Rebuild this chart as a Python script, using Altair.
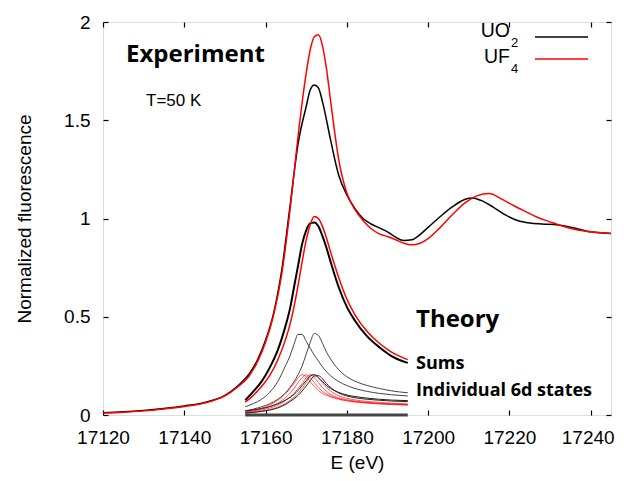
import altair as alt
import pandas as pd

# ---------------- data ----------------
X_TICKS = [17120, 17140, 17160, 17180, 17200, 17220, 17240]
Y_TICKS = [0, 0.5, 1, 1.5, 2]

UO2_E = [17120, 17125, 17130, 17135, 17140, 17145, 17150, 17153, 17156, 17158, 17160, 17162,
         17164, 17166, 17168, 17170, 17171, 17172, 17173, 17174, 17176, 17178, 17180, 17182,
         17184, 17186, 17188, 17190, 17192, 17194, 17196, 17198, 17200, 17203, 17206, 17209,
         17211, 17213, 17216, 17219, 17222, 17225, 17228, 17232, 17236, 17240, 17245]
UO2_V = [0.012, 0.016, 0.023, 0.033, 0.046, 0.064, 0.10, 0.145, 0.21, 0.28, 0.38, 0.52,
         0.74, 1.06, 1.38, 1.57, 1.655, 1.68, 1.665, 1.595, 1.40, 1.22, 1.12, 1.05,
         1.0, 0.972, 0.952, 0.932, 0.905, 0.888, 0.892, 0.918, 0.955, 1.01, 1.06, 1.097,
         1.104, 1.092, 1.058, 1.018, 0.99, 0.977, 0.972, 0.967, 0.952, 0.932, 0.924]

UF4_E = [17120, 17125, 17130, 17135, 17140, 17145, 17150, 17153, 17156, 17158, 17160, 17162,
         17164, 17166, 17168, 17170, 17171, 17172, 17173, 17174, 17175, 17176, 17178, 17180,
         17182, 17184, 17186, 17188, 17190, 17192, 17194, 17196, 17198, 17200, 17203, 17206,
         17209, 17212, 17215, 17218, 17221, 17224, 17227, 17230, 17233, 17236, 17240, 17245]
UF4_V = [0.010, 0.014, 0.021, 0.031, 0.043, 0.061, 0.097, 0.14, 0.20, 0.27, 0.37, 0.51,
         0.72, 1.04, 1.42, 1.74, 1.86, 1.925, 1.935, 1.88, 1.76, 1.60, 1.30, 1.13,
         1.045, 0.99, 0.948, 0.922, 0.908, 0.892, 0.874, 0.866, 0.874, 0.898, 0.955, 1.02,
         1.078, 1.115, 1.127, 1.10, 1.066, 1.035, 1.005, 0.983, 0.962, 0.945, 0.932, 0.924]

TH_E = [17155, 17157, 17159, 17161, 17163, 17165, 17166, 17167, 17168, 17169, 17170, 17171,
        17172, 17173, 17174, 17175, 17176, 17178, 17180, 17182, 17185, 17188, 17191, 17195]
SUM_UO2 = [0.075, 0.12, 0.17, 0.24, 0.33, 0.46, 0.54, 0.65, 0.76, 0.87, 0.94, 0.975,
           0.98, 0.96, 0.91, 0.85, 0.78, 0.65, 0.55, 0.48, 0.40, 0.345, 0.30, 0.265]
SUM_UF4 = [0.065, 0.10, 0.145, 0.20, 0.28, 0.39, 0.46, 0.55, 0.66, 0.78, 0.89, 0.97,
           1.01, 1.0, 0.96, 0.90, 0.83, 0.70, 0.59, 0.51, 0.425, 0.365, 0.32, 0.282]
IND_UO2_A = [0.042, 0.058, 0.08, 0.115, 0.17, 0.255, 0.30, 0.36, 0.41, 0.41, 0.375, 0.34,
             0.305, 0.275, 0.245, 0.22, 0.20, 0.17, 0.15, 0.135, 0.12, 0.11, 0.103, 0.097]
IND_UO2_B = [0.022, 0.03, 0.042, 0.057, 0.08, 0.115, 0.14, 0.17, 0.205, 0.25, 0.31, 0.37,
             0.415, 0.405, 0.365, 0.32, 0.285, 0.23, 0.195, 0.172, 0.15, 0.135, 0.123, 0.113]
IND_UO2_C = [0.02, 0.026, 0.033, 0.043, 0.057, 0.077, 0.09, 0.105, 0.125, 0.15, 0.175, 0.20,
             0.205, 0.19, 0.17, 0.15, 0.135, 0.115, 0.102, 0.094, 0.086, 0.08, 0.076, 0.073]
IND_UO2_D = [0.01, 0.013, 0.018, 0.025, 0.036, 0.055, 0.068, 0.083, 0.10, 0.122, 0.148, 0.175,
             0.198, 0.20, 0.185, 0.16, 0.14, 0.112, 0.097, 0.088, 0.08, 0.075, 0.071, 0.068]
IND_UF4_A = [0.018, 0.025, 0.035, 0.05, 0.075, 0.11, 0.135, 0.16, 0.19, 0.205, 0.195, 0.17,
             0.145, 0.125, 0.11, 0.10, 0.092, 0.08, 0.072, 0.066, 0.06, 0.056, 0.053, 0.05]
IND_UF4_B = [0.015, 0.021, 0.03, 0.042, 0.06, 0.09, 0.11, 0.135, 0.165, 0.19, 0.205, 0.19,
             0.165, 0.14, 0.12, 0.107, 0.097, 0.083, 0.074, 0.068, 0.062, 0.058, 0.055, 0.052]
IND_UF4_C = [0.012, 0.017, 0.025, 0.035, 0.05, 0.075, 0.09, 0.11, 0.135, 0.16, 0.19, 0.205,
             0.19, 0.165, 0.14, 0.12, 0.105, 0.088, 0.078, 0.071, 0.064, 0.06, 0.057, 0.054]
IND_UF4_D = [0.01, 0.014, 0.02, 0.028, 0.04, 0.06, 0.075, 0.09, 0.11, 0.135, 0.165, 0.195,
             0.205, 0.19, 0.165, 0.14, 0.122, 0.098, 0.085, 0.077, 0.069, 0.064, 0.06, 0.056]
TH_RANGE = [17155, 17195]


def frame(E, V, name):
    return pd.DataFrame({"E": E, "v": V, "s": name})


exp_uo2 = frame(UO2_E, UO2_V, "UO2")
exp_uf4 = frame(UF4_E, UF4_V, "UF4")
sum_uo2 = frame(TH_E, SUM_UO2, "sUO2")
sum_uf4 = frame(TH_E, SUM_UF4, "sUF4")
ind_big = pd.concat([frame(TH_E, IND_UO2_A, "a"), frame(TH_E, IND_UO2_B, "b")])
ind_blk = pd.concat([frame(TH_E, IND_UO2_C, "c"), frame(TH_E, IND_UO2_D, "d")])
ind_red = pd.concat([frame(TH_E, IND_UF4_A, "e"), frame(TH_E, IND_UF4_B, "f"),
                     frame(TH_E, IND_UF4_C, "g"), frame(TH_E, IND_UF4_D, "h")])
base_df = pd.DataFrame({"x0": [TH_RANGE[0]], "x1": [TH_RANGE[1]], "y": [0.0]})

XS = alt.Scale(domain=[17120, 17245], nice=False, zero=False)
YS = alt.Scale(domain=[0, 2], nice=False, zero=False)
LF = "Liberation Sans"


def line(df, color, width, opacity=1.0):
    return alt.Chart(df).mark_line(color=color, strokeWidth=width, opacity=opacity,
                                   interpolate="monotone").encode(
        x=alt.X("E:Q", scale=XS, axis=None),
        y=alt.Y("v:Q", scale=YS, axis=None),
        detail="s:N",
    )


# baseline band + mirrored (top/right) inward ticks
baseline = alt.Chart(base_df).mark_rule(color="#444444", strokeWidth=3).encode(
    x=alt.X("x0:Q", scale=XS, axis=alt.Axis(orient="top", values=X_TICKS, offset=-5, tickSize=5,
                                             tickColor="black", tickWidth=1.2, labels=False,
                                             domain=False, grid=False, title=None)),
    x2="x1:Q",
    y=alt.Y("y:Q", scale=YS, axis=alt.Axis(orient="right", values=Y_TICKS, offset=-5, tickSize=5,
                                            tickColor="black", tickWidth=1.2, labels=False,
                                            domain=False, grid=False, title=None)),
)

exp_axes = alt.Chart(exp_uo2).mark_line(color="black", strokeWidth=1.5, interpolate="monotone").encode(
    x=alt.X("E:Q", scale=XS, axis=alt.Axis(orient="bottom", values=X_TICKS, offset=-5, tickSize=5,
                                            tickColor="black", tickWidth=1.2, domain=False, grid=False,
                                            format="d", labelFont=LF, labelFontSize=19,
                                            labelColor="black", labelPadding=13,
                                            labelFlush=False, labelOverlap=False,
                                            labelOffset={"condition": {"test": "datum.value >= 17240",
                                                                       "value": -3},
                                                         "value": 0},
                                            title="E (eV)", titleFont=LF, titleFontSize=19,
                                            titleFontWeight="normal", titleColor="black",
                                            titlePadding=6)),
    y=alt.Y("v:Q", scale=YS, axis=alt.Axis(orient="left", values=Y_TICKS, offset=-5, tickSize=5,
                                            tickColor="black", tickWidth=1.2, domain=False, grid=False,
                                            format="~g", labelFont=LF, labelFontSize=19,
                                            labelColor="black", labelPadding=13,
                                            labelFlush=False, labelOverlap=False,
                                            title="Normalized fluorescence", titleFont=LF,
                                            titleFontSize=19, titleFontWeight="normal",
                                            titleColor="black", titlePadding=29)),
)


def text(t, x, y, size, font="Open Sans", weight="bold", align="left"):
    return alt.Chart(pd.DataFrame({"t": [t]})).mark_text(
        font=font, fontSize=size, fontWeight=weight, align=align, baseline="alphabetic",
        color="black").encode(x=alt.value(x), y=alt.value(y), text="t:N")


def swatch(color, y):
    return alt.Chart(pd.DataFrame({"k": [0]})).mark_rule(color=color, strokeWidth=1.5).encode(
        x=alt.value(432), x2=alt.value(485), y=alt.value(y))


texts = [
    text("Experiment", 23, 40, 24),
    text("T=50 K", 43, 84, 17, font=LF, weight="normal"),
    text("Theory", 313, 305, 24),
    text("Sums", 313, 347, 18),
    text("Individual 6d states", 313, 374, 18),
    text("UO", 407, 15, 19.5, font=LF, weight="normal", align="right"),
    text("2", 408, 25, 13, font=LF, weight="normal"),
    text("UF", 407, 41, 19.5, font=LF, weight="normal", align="right"),
    text("4", 408, 51, 13, font=LF, weight="normal"),
    swatch("black", 15),
    swatch("red", 37),
]

chart = alt.layer(
    baseline,
    line(ind_big, "#444444", 1.0),
    line(ind_red, "#ff0000", 1.0, 0.65),
    line(ind_blk, "#222222", 1.0),
    line(sum_uo2, "black", 2.0),
    line(sum_uf4, "red", 1.5),
    exp_axes,
    line(exp_uf4, "red", 1.5),
    *texts,
).resolve_axis(x="independent", y="independent").properties(
    width=508, height=393,
    padding={"left": 95, "top": 14, "right": 5, "bottom": 58},
    autosize=alt.AutoSizeParams(type="none"),
).configure_view(stroke="black", strokeWidth=1.5).configure(background="white")

chart.save("out.html", embed_options={"renderer": "svg", "actions": False})
